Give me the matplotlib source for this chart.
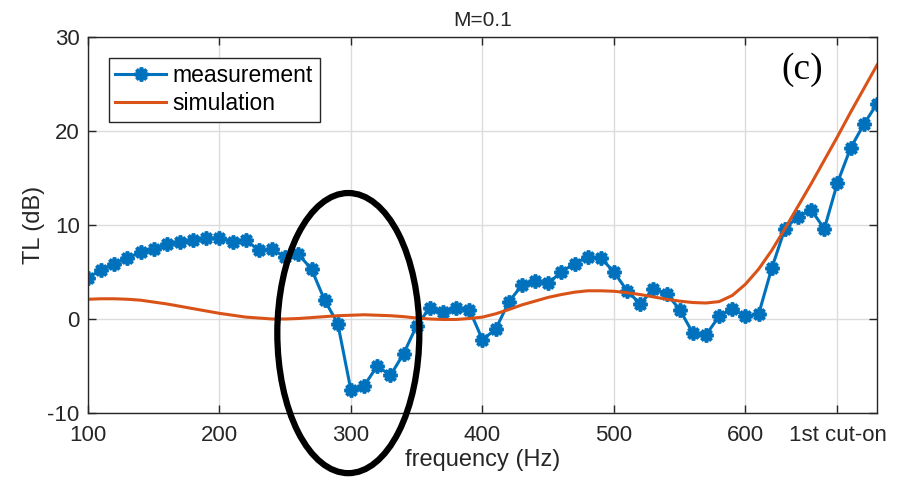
import matplotlib.pyplot as plt
from matplotlib.patches import Ellipse

plt.rcParams['font.family'] = ['Liberation Sans', 'DejaVu Sans']
plt.rcParams['axes.unicode_minus'] = False

# frequency grid (Hz), 10 Hz steps
freq = list(range(100, 701, 10))

# measured TL (dB)
tl_meas = [4.4, 5.2, 5.9, 6.5, 7.1, 7.4, 8.0, 8.2, 8.4, 8.6,
           8.6, 8.2, 8.4, 7.3, 7.4, 6.6, 6.9, 5.3, 2.0, -0.5,
           -7.6, -7.1, -5.0, -6.0, -3.7, -0.7, 1.2, 0.7, 1.2, 1.0,
           -2.2, -1.1, 1.8, 3.6, 4.0, 3.8, 5.0, 5.9, 6.6, 6.5,
           5.0, 3.0, 1.6, 3.2, 2.7, 1.0, -1.5, -1.7, 0.3, 1.1,
           0.3, 0.5, 5.4, 9.6, 10.9, 11.6, 9.6, 14.5, 18.2, 20.7,
           22.9]

# simulated TL (dB)
tl_sim = [2.1, 2.15, 2.15, 2.1, 2.0, 1.8, 1.6, 1.35, 1.1, 0.85,
          0.6, 0.4, 0.2, 0.1, 0.0, 0.0, 0.05, 0.15, 0.25, 0.35,
          0.4, 0.45, 0.4, 0.35, 0.25, 0.1, 0.0, -0.05, -0.05, 0.05,
          0.2, 0.55, 1.0, 1.5, 1.9, 2.3, 2.6, 2.85, 3.0, 3.0,
          2.95, 2.8, 2.6, 2.35, 2.1, 1.9, 1.75, 1.7, 1.85, 2.5,
          3.7, 5.3, 7.3, 9.6, 12.0, 14.4, 16.9, 19.4, 22.0, 24.5,
          27.0]

xticks = [100, 200, 300, 400, 500, 600, 670]
xticklabels = ['100', '200', '300', '400', '500', '600', '1st cut-on']
yticks = [-10, 0, 10, 20, 30]

blue = '#0072BD'
orange = '#D95319'
dark = '#262626'

fig = plt.figure(figsize=(9.05, 4.79), dpi=100)
ax = fig.add_axes([0.0972, 0.1378, 0.8718, 0.785])

ax.plot(freq, tl_meas, color=blue, lw=2.2, marker=(8, 2, 0), ms=10, mew=2.6,
        label='measurement')
ax.plot(freq, tl_sim, color=orange, lw=2.2, label='simulation')

ax.set_xlim(100, 700)
ax.set_ylim(-10, 30)
ax.set_xticks(xticks)
ax.set_xticklabels(xticklabels)
ax.set_yticks(yticks)
ax.grid(True, color='#dcdcdc', lw=1.0)
ax.set_axisbelow(True)

ax.tick_params(direction='in', top=True, right=True, length=6, width=1,
               colors=dark, labelsize=16)
ax.tick_params(axis='x', pad=9)
ax.tick_params(axis='y', pad=6)
for s in ax.spines.values():
    s.set_color(dark)
    s.set_linewidth(1.0)

ax.set_xlabel('frequency (Hz)', fontsize=17, color=dark, labelpad=2)
ax.set_ylabel('TL (dB)', fontsize=17, color=dark, labelpad=2)
ax.set_title('M=0.1', fontsize=15, color=dark, pad=8)

leg = ax.legend(loc='upper left', fontsize=16.5, handlelength=2.2,
                borderpad=0.3, labelspacing=0.2, handletextpad=0.3,
                borderaxespad=0.9, fancybox=False, framealpha=1)
leg.get_frame().set_edgecolor(dark)
leg.get_frame().set_linewidth(1.0)

ax.text(643, 26.5, '(c)', fontsize=27, family='Liberation Serif',
        ha='center', va='center', color='black')

# highlight the dip near 300 Hz
ell = Ellipse((298, -1.5), 108, 29.8, fill=False, ec='black', lw=4.5,
              clip_on=False, zorder=10)
ax.add_patch(ell)

fig.savefig('out.png', dpi=100)
